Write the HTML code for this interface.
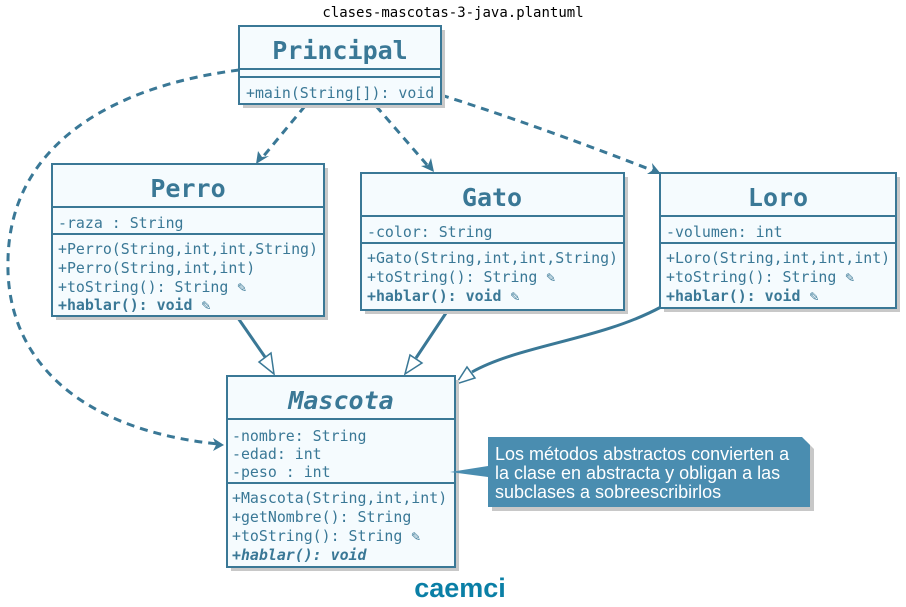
<!DOCTYPE html>
<html><head><meta charset="utf-8"><style>
html,body{margin:0;padding:0;background:#fff;}
svg{display:block;}
.m{font-family:"DejaVu Sans Mono","Liberation Mono",monospace;font-size:14.9px;fill:#3a7896;}
.b{font-weight:bold;}
.t{font-family:"DejaVu Sans Mono","Liberation Mono",monospace;font-size:25px;font-weight:bold;fill:#3a7896;text-anchor:middle;}
.box{fill:#f5fbfe;stroke:#3a7896;stroke-width:2;}
.ln{stroke:#3a7896;stroke-width:2;}
.sh{fill:#c8c8c8;}
.d{fill:none;stroke:#3a7896;stroke-width:3;stroke-dasharray:8,6;}
.s{fill:none;stroke:#3a7896;stroke-width:3;}
</style></head><body>
<svg width="906" height="607" viewBox="0 0 906 607" xmlns="http://www.w3.org/2000/svg">
<text x="453" y="17" text-anchor="middle" font-family="DejaVu Sans Mono,Liberation Mono,monospace" font-size="14" fill="#000">clases-mascotas-3-java.plantuml</text>

<path class="d" d="M239,70 C120,85 10,140 8,260 C5,360 80,430 218,444"/>
<path d="M224,445 L213,438 L216,445 L213,451 Z" fill="#3a7896"/>
<path class="d" d="M305,106 L262,158"/>
<path d="M256,164 L258,151 L262,157 L269,156 Z" fill="#3a7896"/>
<path class="d" d="M376,106 L428,166"/>
<path d="M434,172 L421,166 L428,165 L431,158 Z" fill="#3a7896"/>
<path class="d" d="M441,95 C520,120 600,150 654,171"/>
<path d="M661,174 L647,174 L653,170 L652,163 Z" fill="#3a7896"/>

<path class="s" d="M238,318 L265,357"/>
<path d="M274,374 L259,362 L271,353 Z" fill="#fff" stroke="#3a7896" stroke-width="1.5"/>
<path class="s" d="M448,310 L416,358"/>
<path d="M405,374 L410,355 L422,363 Z" fill="#fff" stroke="#3a7896" stroke-width="1.5"/>
<path class="s" d="M661,307 C600,340 520,345 472,372"/>
<path d="M456,384 L467,367 L475,378 Z" fill="#fff" stroke="#3a7896" stroke-width="1.5"/>

<rect class="sh" x="243" y="30" width="202" height="78"/>
<rect class="box" x="239" y="26" width="202" height="78"/>
<line class="ln" x1="239" y1="69" x2="441" y2="69"/>
<line class="ln" x1="239" y1="77" x2="441" y2="77"/>
<text class="t" x="340" y="59">Principal</text>
<text class="m" x="246" y="98">+main(String[]): void</text>

<rect class="sh" x="56" y="168" width="272" height="152"/>
<rect class="box" x="52" y="164" width="272" height="152"/>
<line class="ln" x1="52" y1="207" x2="324" y2="207"/>
<line class="ln" x1="52" y1="234" x2="324" y2="234"/>
<text class="t" x="188" y="197">Perro</text>
<text class="m" x="58" y="228">-raza : String</text>
<text class="m" x="58" y="254">+Perro(String,int,int,String)</text>
<text class="m" x="58" y="273">+Perro(String,int,int)</text>
<text class="m" x="58" y="292">+toString(): String ✎</text>
<text class="m b" x="58" y="310">+hablar(): void ✎</text>

<rect class="sh" x="365" y="177" width="263" height="137"/>
<rect class="box" x="361" y="173" width="263" height="137"/>
<line class="ln" x1="361" y1="216" x2="624" y2="216"/>
<line class="ln" x1="361" y1="243" x2="624" y2="243"/>
<text class="t" x="492" y="206">Gato</text>
<text class="m" x="367" y="237">-color: String</text>
<text class="m" x="367" y="263">+Gato(String,int,int,String)</text>
<text class="m" x="367" y="282">+toString(): String ✎</text>
<text class="m b" x="367" y="301">+hablar(): void ✎</text>

<rect class="sh" x="664" y="177" width="236" height="135"/>
<rect class="box" x="660" y="173" width="236" height="135"/>
<line class="ln" x1="660" y1="216" x2="896" y2="216"/>
<line class="ln" x1="660" y1="243" x2="896" y2="243"/>
<text class="t" x="778" y="206">Loro</text>
<text class="m" x="666" y="237">-volumen: int</text>
<text class="m" x="666" y="263">+Loro(String,int,int,int)</text>
<text class="m" x="666" y="282">+toString(): String ✎</text>
<text class="m b" x="666" y="301">+hablar(): void ✎</text>

<rect class="sh" x="231" y="380" width="228" height="191"/>
<rect class="box" x="227" y="376" width="228" height="191"/>
<line class="ln" x1="227" y1="419" x2="455" y2="419"/>
<line class="ln" x1="227" y1="483" x2="455" y2="483"/>
<text class="t" x="341" y="409" font-style="italic">Mascota</text>
<text class="m" x="232" y="441">-nombre: String</text>
<text class="m" x="232" y="459">-edad: int</text>
<text class="m" x="232" y="477">-peso : int</text>
<text class="m" x="232" y="503">+Mascota(String,int,int)</text>
<text class="m" x="232" y="522">+getNombre(): String</text>
<text class="m" x="232" y="541">+toString(): String ✎</text>
<text class="m b" x="232" y="560" font-style="italic">+hablar(): void</text>

<path d="M492,441 L806,441 L814,449 L814,511 L492,511 Z" fill="#c8c8c8"/>
<path d="M488,437 L802,437 L810,445 L810,507 L488,507 L488,477 L450,472 L488,466 Z" fill="#4a8db0"/>
<text font-family="Liberation Sans,DejaVu Sans,sans-serif" font-size="18" fill="#fff">
<tspan x="495" y="460">Los métodos abstractos convierten a</tspan>
<tspan x="495" y="479">la clase en abstracta y obligan a las</tspan>
<tspan x="495" y="498">subclases a sobreescribirlos</tspan>
</text>

<text x="460" y="597" text-anchor="middle" font-family="Liberation Sans,DejaVu Sans,sans-serif" font-size="27" font-weight="bold" fill="#0a7fa6">caemci</text>
</svg>
</body></html>
